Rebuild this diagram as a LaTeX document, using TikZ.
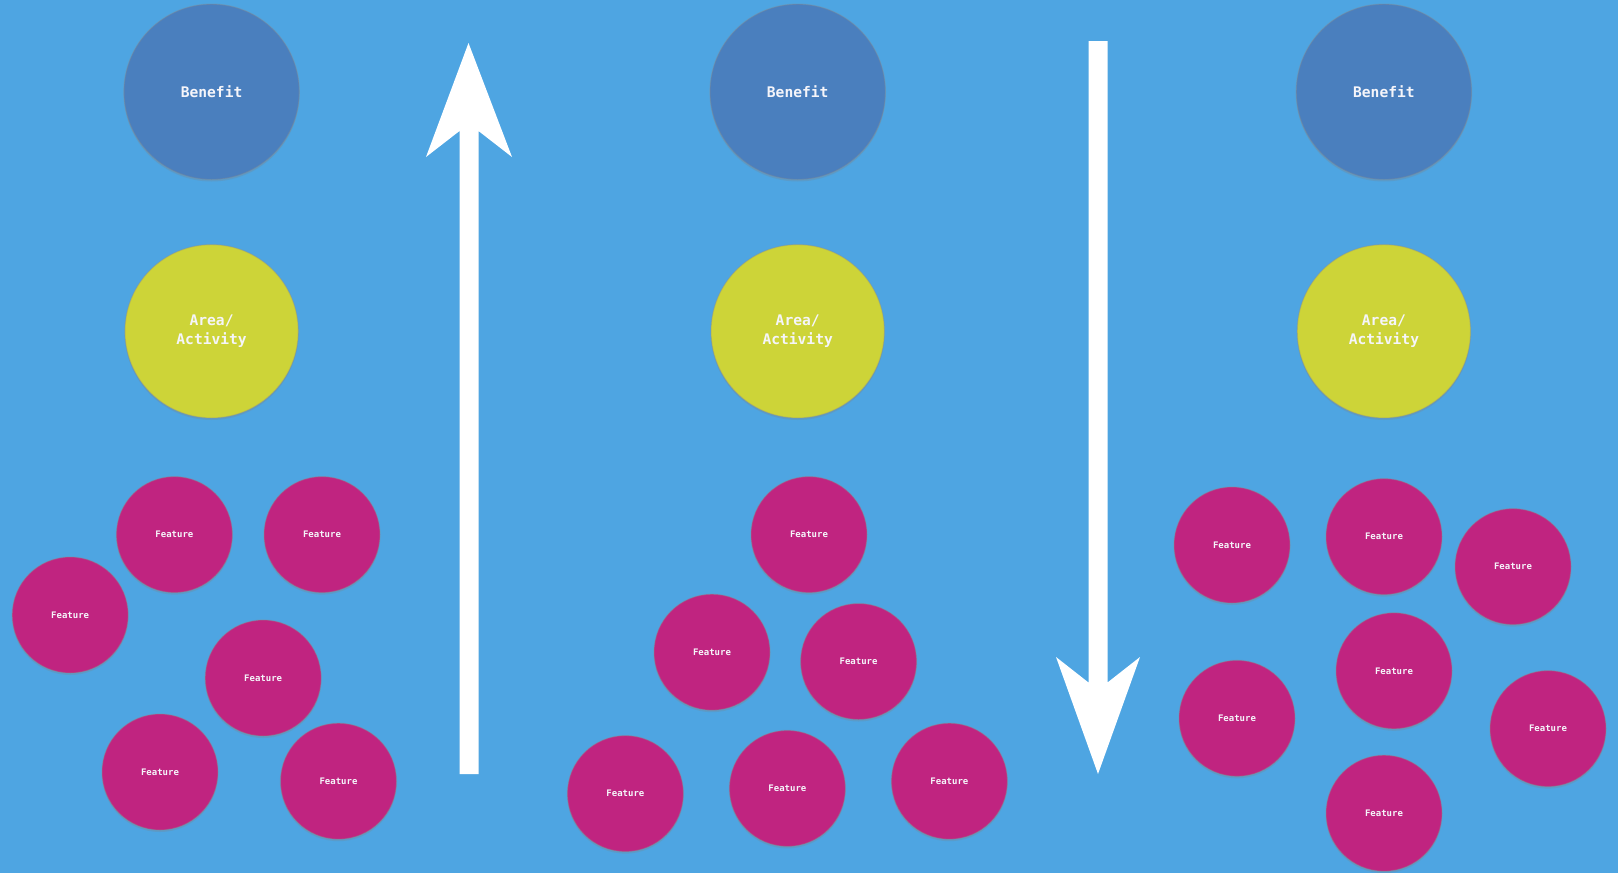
\documentclass[tikz,border=0pt]{standalone}
\usepackage{fontspec}
\newfontfamily\monof{DejaVu Sans Mono}
\usetikzlibrary{shadows}
\definecolor{bg}{RGB}{78,165,226}
\definecolor{benefitc}{RGB}{74,127,190}
\definecolor{areac}{RGB}{205,212,56}
\definecolor{featc}{RGB}{192,36,128}
\definecolor{txtc}{RGB}{245,245,250}
\tikzset{
  blob/.style={circle, inner sep=0pt, text=txtc, align=center,
    draw=black!45, draw opacity=0.35, line width=0.6pt,
    drop shadow={opacity=0.25, shadow xshift=0pt, shadow yshift=-1pt}},
  benefit/.style={blob, fill=benefitc, minimum size=87.7pt,
    font=\monof\bfseries\fontsize{7.3}{9.2}\selectfont},
  area/.style={blob, fill=areac, minimum size=86.7pt,
    font=\monof\bfseries\fontsize{7.3}{9.2}\selectfont},
  feat/.style={blob, fill=featc, minimum size=58pt,
    font=\monof\bfseries\fontsize{4.5}{5.5}\selectfont},
  bigarrow/.style={fill=white, draw=none}
}
\begin{document}
\begin{tikzpicture}[x=0.5pt, y=-0.5pt]
\fill[bg] (0,0) rectangle (1618,873);
\useasboundingbox (0,0) rectangle (1618,873);

% left column
\node[benefit] (b1) at (211.6,91.8) {Benefit};
\node[area] (a1) at (211.6,331.3) {Area/\\Activity};
\node[feat] (f11) at (174.4,534.6) {Feature};
\node[feat] (f12) at (322,534.6) {Feature};
\node[feat] (f13) at (70.2,615) {Feature};
\node[feat] (f14) at (263.2,678) {Feature};
\node[feat] (f15) at (160,772) {Feature};
\node[feat] (f16) at (338.5,781.2) {Feature};

% middle column
\node[benefit] (b2) at (797.7,91.8) {Benefit};
\node[area] (a2) at (797.7,331.3) {Area/\\Activity};
\node[feat] (f21) at (809,534.6) {Feature};
\node[feat] (f22) at (712,652.2) {Feature};
\node[feat] (f23) at (858.6,661.5) {Feature};
\node[feat] (f24) at (625.4,793.6) {Feature};
\node[feat] (f25) at (787.4,788.4) {Feature};
\node[feat] (f26) at (949.4,781.2) {Feature};

% right column
\node[benefit] (b3) at (1383.9,91.8) {Benefit};
\node[area] (a3) at (1383.9,331.3) {Area/\\Activity};
\node[feat] (f31) at (1232,545) {Feature};
\node[feat] (f32) at (1384,536.6) {Feature};
\node[feat] (f33) at (1513,566.6) {Feature};
\node[feat] (f34) at (1394,670.8) {Feature};
\node[feat] (f35) at (1237,718.3) {Feature};
\node[feat] (f36) at (1548,728.6) {Feature};
\node[feat] (f37) at (1384,813.2) {Feature};

% up arrow
\fill[bigarrow] (459.5,774) -- (459.5,131) -- (426,157) -- (468.5,43)
  -- (512,157) -- (478.5,131) -- (478.5,774) -- cycle;
% down arrow
\fill[bigarrow] (1088.5,41) -- (1088.5,682.5) -- (1056,657) -- (1098,774)
  -- (1140,657) -- (1107.5,682.5) -- (1107.5,41) -- cycle;
\end{tikzpicture}
\end{document}
